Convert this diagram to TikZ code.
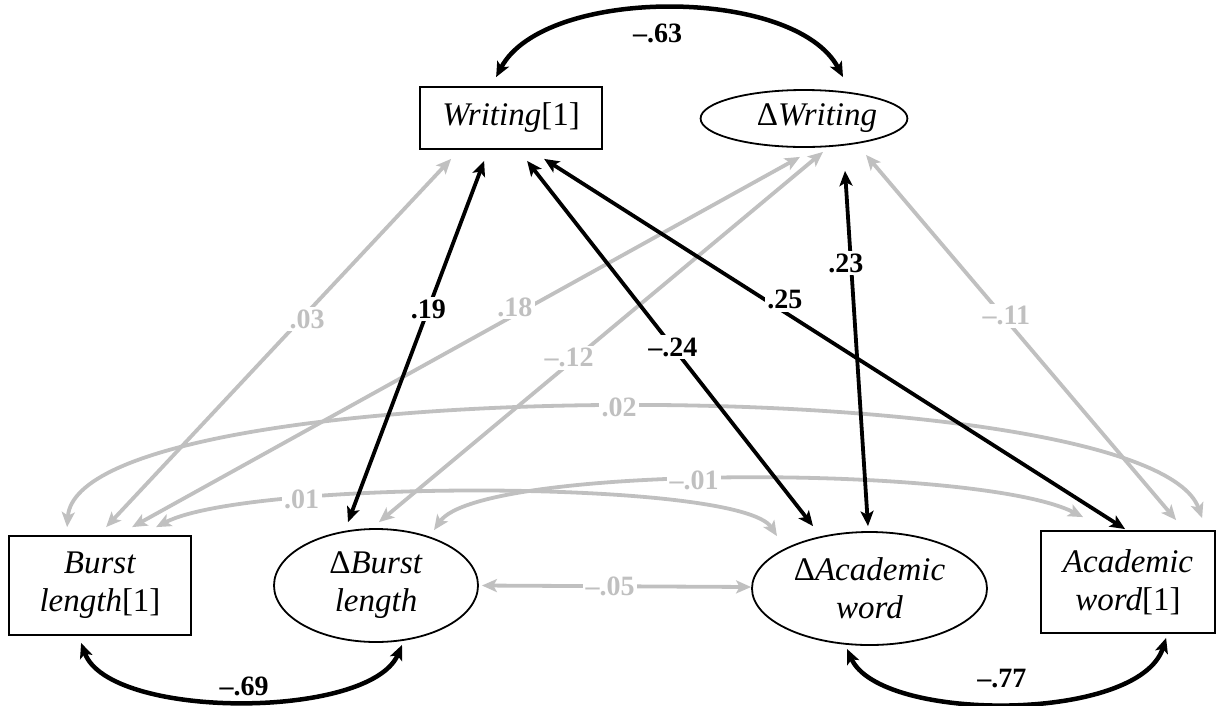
\documentclass[tikz,border=0pt]{standalone}
\usepackage{fontspec}
\setmainfont{Liberation Serif}
\usetikzlibrary{arrows.meta,calc,shapes.geometric}
\definecolor{pathgray}{RGB}{192,192,192}
\begin{document}
\begin{tikzpicture}[x=1pt,y=-1pt,
  var/.style={draw=black, line width=1.8pt, inner sep=0pt, align=center,
    font=\fontsize{33}{38}\selectfont},
  observed/.style={var, rectangle},
  latent/.style={var, ellipse},
  twoway/.style={arrows={Stealth[length=15pt,width=13pt,inset=3.5pt]-Stealth[length=15pt,width=13pt,inset=3.5pt]}},
  grayline/.style={draw=pathgray, line width=3.8pt, twoway},
  blackline/.style={draw=black, line width=3.8pt, twoway},
  arcline/.style={draw=black, line width=4.5pt, twoway},
  coef/.style={font=\fontsize{28}{30}\selectfont\bfseries, inner sep=2.5pt},
  graycoef/.style={coef, fill=white, text=pathgray},
  blackcoef/.style={coef, fill=white, text=black},
  freecoef/.style={coef, text=black}]
\useasboundingbox (0,0) rectangle (1217,705);

% variables
\node[observed, minimum width=182pt, minimum height=62pt] (w1) at (511,118) {\textit{Writing}[1]};
\node[latent, minimum width=206pt, minimum height=57pt] (dw) at (804,118.5) {\hspace*{26pt}Δ\textit{Writing}};
\node[observed, minimum width=182pt, minimum height=99pt] (bl) at (100,585.5) {\textit{Burst}\\\textit{length}[1]};
\node[latent, minimum width=204pt, minimum height=113pt] (db) at (376,585.5) {Δ\textit{Burst}\\\textit{length}};
\node[latent, minimum width=235pt, minimum height=113pt] (da) at (869.5,588.5) {Δ\textit{Academic}\\\textit{word}};
\node[observed, minimum width=174pt, minimum height=102pt] (aw) at (1128,582) {\textit{Academic}\\\textit{word}[1]};

% non-significant correlations
\draw[grayline] ($(bl.north west)+(59,-8)$) .. controls +(12,-158) and +(-53,-149) .. ($(aw.north west)+(162,-12)$)
  node[graycoef, pos=.5] (c02) {.02};
\draw[grayline] ($(bl.north west)+(148,-8)$) .. controls +(93,-48) and +(-37,-57) .. ($(da.north)+(-92.5,5)$)
  node[graycoef, pos=.27] (c01) {.01};
\draw[grayline] ($(db.north)+(58,2)$) .. controls +(46,-66) and +(-104,-53) .. ($(aw.north west)+(43,-13)$)
  node[graycoef, pos=.45] (cm01) {\textendash.01};
\draw[grayline] ($(bl.north west)+(98,-8)$) -- ($(w1.south west)+(32,9)$)
  node[graycoef, pos=.565, xshift=6pt] (c03) {.03};
\draw[grayline] ($(bl.north west)+(124,-8)$) -- ($(dw.south)+(-4,9)$)
  node[graycoef, pos=.573, yshift=8pt] (c18) {.18};
\draw[grayline] ($(db.north)+(3,-6)$) -- ($(dw.south)+(19,4)$)
  node[graycoef, pos=.444, xshift=-7pt] (cm12) {\textendash.12};
\draw[grayline] ($(dw.south)+(62,7)$) -- ($(aw.north west)+(136,-10)$)
  node[graycoef, pos=.44, xshift=4pt] (cm11) {\textendash.11};
\draw[grayline] ($(db.east)+(3,0)$) -- ($(da.west)+(0,-1.5)$)
  node[graycoef, pos=.476] (cm05) {\textendash.05};

% significant correlations
\draw[blackline] ($(db.north)+(-28,-6)$) -- ($(w1.south west)+(65,11)$)
  node[blackcoef, pos=.59] (c19) {.19};
\draw[blackline] ($(w1.south west)+(108,11)$) -- ($(da.north)+(-56.5,-5)$)
  node[blackcoef, pos=.51] (cm24) {\textendash.24};
\draw[blackline] ($(w1.south west)+(125,9)$) -- ($(aw.north west)+(85,-1)$)
  node[blackcoef, pos=.38, xshift=20pt] (c25) {.25};
\draw[blackline] ($(dw.south)+(41,23)$) -- ($(da.north)+(-1.5,-5)$)
  node[blackcoef, pos=.26, xshift=-5pt] (c23) {.23};

% correlations between initial level and change
\draw[arcline] ($(w1.north west)+(77,-9)$) .. controls +(48,-91) and +(-48,-91) .. ($(dw.north)+(39,-12)$)
  node[freecoef, pos=.5, xshift=-12pt, yshift=-25pt] (cm63) {\textendash.63};
\draw[arcline] ($(bl.south west)+(73,7)$) .. controls +(28,77) and +(-32,75) .. ($(db.south)+(26,2)$)
  node[freecoef, pos=.5, xshift=4pt, yshift=14pt] (cm69) {\textendash.69};
\draw[arcline] ($(da.south)+(-22.5,3)$) .. controls +(33,74) and +(-27,85) .. ($(aw.south west)+(126,4)$)
  node[freecoef, pos=.5, xshift=-7pt, yshift=25pt] (cm77) {\textendash.77};
\end{tikzpicture}
\end{document}
